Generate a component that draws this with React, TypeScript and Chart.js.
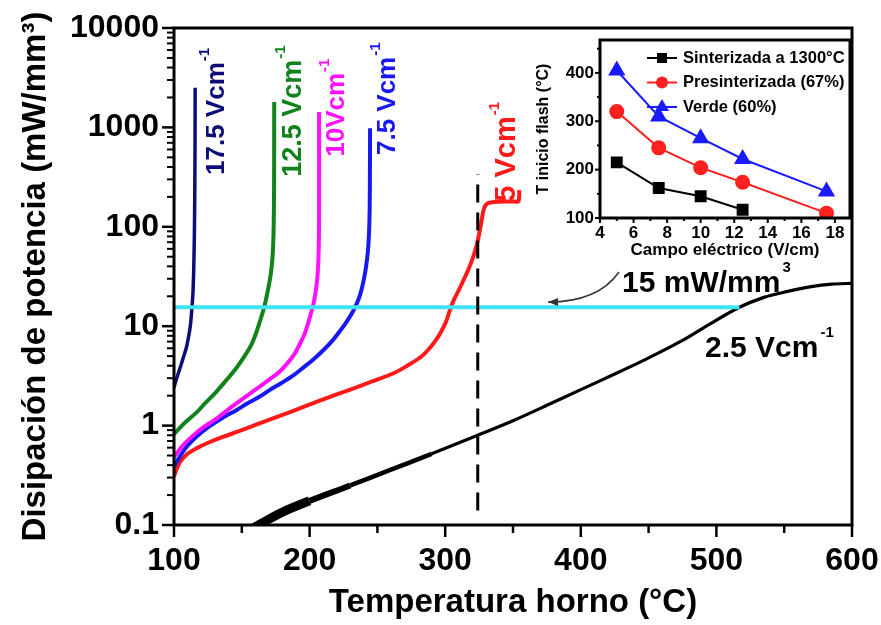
import React, { useEffect, useRef } from "react";
import { Chart, registerables } from "chart.js";
Chart.register(...registerables);

const FONT = "'Liberation Sans', Arial, Helvetica, sans-serif";

// ---------------- main chart: axes ----------------
const xTickValues = [100, 200, 300, 400, 500, 600];
const xMinorValues = [150, 250, 350, 450, 550];
const yTickValues = [0.1, 1, 10, 100, 1000, 10000];
const yTickLabels = ["0.1", "1", "10", "100", "1000", "10000"];
const yMinorValues: number[] = [];
for (const dec of [0.1, 1, 10, 100, 1000]) for (let k = 2; k <= 9; k++) yMinorValues.push(k * dec);

// ---------------- main chart: series [T (°C), P (mW/mm3)] ----------------
const field17_5: [number, number][] = [
  [100, 2.4], [101, 2.7], [103, 3.3], [105, 4.0], [107, 4.9], [109, 6.0], [110.5, 7.5],
  [112, 10], [113, 14], [114, 22], [114.6, 40], [115, 80], [115.3, 200], [115.5, 600], [115.6, 2500],
];
const field12_5: [number, number][] = [
  [100, 0.82], [105, 0.97], [110, 1.13], [116.5, 1.35], [123, 1.68], [130, 2.1], [138, 2.8],
  [146, 3.8], [152, 5.0], [157, 6.5], [160.5, 8.5], [163, 10.8], [165, 13.2], [166.5, 15.5],
  [168, 19], [169.5, 24], [171, 31], [172.2, 42], [173, 60], [173.5, 100], [173.8, 250], [173.9, 1800],
];
const field10: [number, number][] = [
  [100, 0.48], [106, 0.62], [113, 0.77], [121, 0.95], [130, 1.14], [138, 1.38], [146, 1.67],
  [154, 2.0], [163, 2.46], [171, 2.95], [178, 3.5], [184, 4.3], [189, 5.3], [193, 6.7],
  [196.5, 8.5], [199, 10.8], [201, 13.5], [202.3, 15.5], [203.8, 19.5], [205, 25], [205.9, 33],
  [206.5, 48], [206.9, 80], [207, 200], [207, 1430],
];
const field7_5: [number, number][] = [
  [100, 0.39], [108, 0.58], [116.5, 0.77], [126, 0.98], [136, 1.2], [146, 1.43], [154, 1.67],
  [163, 1.95], [171, 2.3], [179, 2.67], [188, 3.2], [196, 3.9], [204, 4.8], [211, 5.9],
  [217, 7.2], [222, 8.8], [226.5, 10.7], [230.5, 13], [233.5, 15.5], [236.3, 19], [238.5, 24],
  [240.3, 31], [241.8, 41], [243, 57], [243.8, 85], [244.3, 150], [244.5, 400], [244.6, 980],
];
const field5: [number, number][] = [
  [100, 0.31], [104, 0.42], [110, 0.52], [116.5, 0.59], [126, 0.68], [136, 0.77], [150, 0.9],
  [163, 1.05], [180, 1.28], [196, 1.55], [212, 1.88], [229, 2.28], [246, 2.78], [262, 3.36],
  [272, 4.0], [282, 4.9], [288, 5.9], [293, 7.2], [297, 8.8], [300.5, 11], [303.5, 14.5],
  [306.5, 18.5], [310, 23], [313.5, 29], [317, 37], [320, 47], [322.5, 60], [324.5, 78],
  [326, 100], [327.3, 125], [328.3, 148], [329.8, 165], [332, 174], [336, 178], [343, 180],
  [350, 180], [354, 181], [354.6, 234],
];
const field2_5: [number, number][] = [
  [150, 0.08], [165, 0.105], [180, 0.135], [200, 0.175], [230, 0.25], [260, 0.36], [290, 0.52],
  [324, 0.8], [350, 1.12], [375, 1.6], [400, 2.3], [425, 3.3], [450, 4.8], [475, 7.2],
  [495, 10.5], [517, 15.5], [535, 19.5], [550, 22], [570, 25], [585, 26.5], [600, 27],
];
const thresholdLine: [number, number][] = [[100, 15.5], [517, 15.5]];
const onsetLine: [number, number][] = [[324, 0.14], [324, 340]];

// ---------------- inset chart ----------------
const insetFields = [5, 7.5, 10, 12.5, 17.5];
const onsetSintered = [215, 162, 145, 117];
const onsetPresintered = [320, 245, 204, 174, 110];
const onsetGreen = [405, 310, 265, 222, 155];
const insetXTicks = [4, 6, 8, 10, 12, 14, 16, 18];
const insetXMinor = [5, 7, 9, 11, 13, 15, 17];
const insetYTicks = [100, 200, 300, 400];
const insetYMinor = [150, 250, 350, 450];
const insetLegend = ["Sinterizada a 1300°C", "Presinterizada (67%)", "Verde (60%)"];

// ---------------- colours ----------------
const NAVY = "#0d0d7a";
const GREEN = "#12821a";
const MAGENTA = "#ff10ff";
const BLUE = "#1818f0";
const RED = "#ff1a1a";
const CYAN = "#3fe3f2";

const toXY = (arr: [number, number][]) => arr.map(([x, y]) => ({ x, y }));

// annotation anchors in data coordinates
const rotatedLabels = [
  { text: "17.5 Vcm", x: 131.5, y: 332, color: NAVY, size: 26 },
  { text: "12.5 Vcm", x: 188, y: 319, color: GREEN, size: 27 },
  { text: "10Vcm", x: 220, y: 507, color: MAGENTA, size: 26 },
  { text: "7.5 Vcm", x: 258, y: 527, color: BLUE, size: 26 },
  { text: "5 Vcm", x: 345.4, y: 179, color: RED, size: 29 },
];

function line(ctx: CanvasRenderingContext2D, x1: number, y1: number, x2: number, y2: number) {
  ctx.beginPath();
  ctx.moveTo(x1, y1);
  ctx.lineTo(x2, y2);
  ctx.stroke();
}

const zeroPad = (s: any) => {
  s.paddingLeft = 0;
  s.paddingRight = 0;
  s.paddingTop = 0;
  s.paddingBottom = 0;
};

const mainDecor = {
  id: "mainDecor",
  afterDraw(chart: any) {
    const { ctx, chartArea: a } = chart;
    const x = chart.scales.x;
    const y = chart.scales.y;
    ctx.save();
    ctx.strokeStyle = "#000";
    ctx.lineWidth = 2.5;
    xTickValues.forEach((v) => { const p = x.getPixelForValue(v); line(ctx, p, a.bottom, p, a.bottom + 12); });
    xMinorValues.forEach((v) => { const p = x.getPixelForValue(v); line(ctx, p, a.bottom, p, a.bottom + 8); });
    yTickValues.forEach((v) => { const p = y.getPixelForValue(v); line(ctx, a.left - 12, p, a.left, p); });
    ctx.lineWidth = 2;
    yMinorValues.forEach((v) => { const p = y.getPixelForValue(v); line(ctx, a.left - 7, p, a.left, p); });
    ctx.lineWidth = 3;
    ctx.strokeRect(a.left, a.top, a.right - a.left, a.bottom - a.top);

    // rotated field labels
    rotatedLabels.forEach((l) => {
      const px = x.getPixelForValue(l.x);
      const py = y.getPixelForValue(l.y);
      ctx.save();
      ctx.translate(px, py);
      ctx.rotate(-Math.PI / 2);
      ctx.fillStyle = l.color;
      ctx.textAlign = "left";
      ctx.textBaseline = "middle";
      ctx.font = `bold ${l.size}px ${FONT}`;
      ctx.fillText(l.text, 0, 0);
      const w = ctx.measureText(l.text).width;
      ctx.font = `bold 15px ${FONT}`;
      ctx.fillText("-1", w + 1, -12);
      ctx.restore();
    });

    // 15 mW/mm3 label with arrow
    ctx.fillStyle = "#000";
    ctx.textAlign = "left";
    ctx.textBaseline = "alphabetic";
    ctx.font = `bold 30px ${FONT}`;
    const lx = x.getPixelForValue(430.4);
    const ly = y.getPixelForValue(22.1);
    ctx.fillText("15 mW/mm", lx, ly);
    const lw = ctx.measureText("15 mW/mm").width;
    ctx.font = `bold 15px ${FONT}`;
    ctx.fillText("3", lx + lw + 2, ly - 20);

    ctx.font = `bold 30px ${FONT}`;
    const bx = x.getPixelForValue(491.6);
    const by = y.getPixelForValue(4.9);
    ctx.fillText("2.5 Vcm", bx, by);
    const bw = ctx.measureText("2.5 Vcm").width;
    ctx.font = `bold 15px ${FONT}`;
    ctx.fillText("-1", bx + bw + 2, by - 20);

    // arrow
    const sx = x.getPixelForValue(428.2), sy = y.getPixelForValue(35.1);
    const cx = x.getPixelForValue(412.7), cy = y.getPixelForValue(17.5);
    const ex = x.getPixelForValue(375.8), ey = y.getPixelForValue(17.5);
    ctx.strokeStyle = "#333";
    ctx.lineWidth = 1.5;
    ctx.beginPath();
    ctx.moveTo(sx, sy);
    ctx.quadraticCurveTo(cx, cy, ex, ey);
    ctx.stroke();
    ctx.fillStyle = "#333";
    ctx.beginPath();
    ctx.moveTo(ex, ey);
    ctx.lineTo(ex + 10, ey - 4);
    ctx.lineTo(ex + 10, ey + 4);
    ctx.closePath();
    ctx.fill();
    ctx.restore();
  },
};

const insetColors = ["#000000", "#ff2020", "#1a1aff"];
const insetStyles = ["rect", "circle", "triangle"];

function drawMarker(ctx: CanvasRenderingContext2D, i: number, cx: number, cy: number) {
  ctx.beginPath();
  if (i === 0) ctx.rect(cx - 5, cy - 5, 10, 10);
  else if (i === 1) ctx.arc(cx, cy, 6, 0, Math.PI * 2);
  else {
    ctx.moveTo(cx, cy - 8);
    ctx.lineTo(cx + 7, cy + 4);
    ctx.lineTo(cx - 7, cy + 4);
    ctx.closePath();
  }
  ctx.fill();
}

const insetDecor = {
  id: "insetDecor",
  afterDraw(chart: any) {
    const { ctx, chartArea: a } = chart;
    const x = chart.scales.x;
    const y = chart.scales.y;
    ctx.save();
    ctx.strokeStyle = "#000";
    ctx.lineWidth = 2;
    insetXTicks.forEach((v) => { const p = x.getPixelForValue(v); line(ctx, p, a.bottom, p, a.bottom + 5); });
    insetXMinor.forEach((v) => { const p = x.getPixelForValue(v); line(ctx, p, a.bottom, p, a.bottom + 3); });
    insetYTicks.forEach((v) => { const p = y.getPixelForValue(v); line(ctx, a.left - 5, p, a.left, p); });
    insetYMinor.forEach((v) => { const p = y.getPixelForValue(v); line(ctx, a.left - 3, p, a.left, p); });
    ctx.lineWidth = 3;
    ctx.strokeRect(a.left, a.top, a.right - a.left, a.bottom - a.top);

    // legend
    insetLegend.forEach((label, i) => {
      const rowY = a.top + 18 + i * 24.5;
      const x0 = a.left + 47;
      ctx.strokeStyle = insetColors[i];
      ctx.lineWidth = 2;
      line(ctx, x0, rowY, x0 + 30, rowY);
      ctx.fillStyle = insetColors[i];
      drawMarker(ctx, i, x0 + 15, rowY);
      ctx.fillStyle = "#000";
      ctx.font = `bold 16.5px ${FONT}`;
      ctx.textAlign = "left";
      ctx.textBaseline = "middle";
      ctx.fillText(label, x0 + 36, rowY);
    });
    ctx.restore();
  },
};

export default function App() {
  const mainRef = useRef<HTMLCanvasElement>(null);
  const insetRef = useRef<HTMLCanvasElement>(null);

  useEffect(() => {
    const curve = (data: [number, number][], color: string, width = 3.5, extra: any = {}) => ({
      data: toXY(data),
      borderColor: color,
      backgroundColor: color,
      borderWidth: width,
      pointRadius: 0,
      tension: 0.3,
      fill: false,
      ...extra,
    });
    const main = new Chart(mainRef.current!, {
      type: "line",
      data: {
        datasets: [
          curve(onsetLine, "#000", 3, { borderDash: [18, 10], tension: 0 }),
          curve(thresholdLine, CYAN, 4, { tension: 0 }),
          curve(field17_5, NAVY, 3.5),
          curve(field12_5, GREEN, 4),
          curve(field10, MAGENTA, 4),
          curve(field7_5, BLUE, 4),
          curve(field5, RED, 4),
          curve(field2_5, "#000", 3, {
            segment: {
              borderWidth: (c: any) =>
                c.p0.parsed.x < 200 ? 9 : c.p0.parsed.x < 230 ? 6 : c.p0.parsed.x < 290 ? 4.5 : 3.2,
            },
          }),
        ],
      },
      options: {
        animation: false,
        responsive: false,
        devicePixelRatio: 1,
        layout: { padding: { top: 28, right: 29, left: 0, bottom: 0 } },
        plugins: { legend: { display: false }, tooltip: { enabled: false } },
        scales: {
          x: {
            type: "linear",
            min: 100,
            max: 600,
            afterBuildTicks: (s: any) => { s.ticks = xTickValues.map((v) => ({ value: v })); },
            afterFit: (s: any) => { s.height = 100; zeroPad(s); },
            grid: { display: false, drawTicks: false },
            border: { display: false },
            ticks: {
              color: "#000",
              font: { family: FONT, size: 32, weight: "bold" },
              padding: 17,
              maxRotation: 0,
              autoSkip: false,
            },
            title: {
              display: true,
              text: "Temperatura horno (°C)",
              color: "#000",
              font: { family: FONT, size: 33, weight: "bold" },
              padding: { top: 0, bottom: 2 },
            },
          },
          y: {
            type: "logarithmic",
            min: 0.1,
            max: 10000,
            afterBuildTicks: (s: any) => { s.ticks = yTickValues.map((v) => ({ value: v })); },
            afterFit: (s: any) => { s.width = 174; zeroPad(s); },
            grid: { display: false, drawTicks: false },
            border: { display: false },
            ticks: {
              color: "#000",
              font: { family: FONT, size: 32, weight: "bold" },
              padding: 15,
              autoSkip: false,
              callback: (v: any) => yTickLabels[yTickValues.indexOf(Number(v))] ?? "",
            },
            title: {
              display: true,
              text: "Disipación de potencia (mW/mm³)",
              color: "#000",
              font: { family: FONT, size: 33, weight: "bold" },
              padding: { top: 16, bottom: 0 },
            },
          },
        },
      },
      plugins: [mainDecor],
    } as any);

    const insetSets = [onsetSintered, onsetPresintered, onsetGreen];
    const inset = new Chart(insetRef.current!, {
      type: "line",
      data: {
        datasets: insetSets.map((vals, i) => ({
          label: insetLegend[i],
          data: vals.map((v, j) => ({ x: insetFields[j], y: v })),
          borderColor: insetColors[i],
          backgroundColor: insetColors[i],
          borderWidth: 2,
          pointStyle: insetStyles[i],
          pointRadius: i === 0 ? 7 : i === 1 ? 6.5 : 8,
          tension: 0,
        })),
      },
      options: {
        animation: false,
        responsive: false,
        devicePixelRatio: 1,
        layout: { padding: { top: 3, right: 10, left: 0, bottom: 0 } },
        plugins: { legend: { display: false }, tooltip: { enabled: false } },
        scales: {
          x: {
            type: "linear",
            min: 4,
            max: 18.9,
            afterBuildTicks: (s: any) => { s.ticks = insetXTicks.map((v) => ({ value: v })); },
            afterFit: (s: any) => { s.height = 52; zeroPad(s); },
            grid: { display: false, drawTicks: false },
            border: { display: false },
            ticks: { color: "#000", font: { family: FONT, size: 17, weight: "bold" }, padding: 5, maxRotation: 0, autoSkip: false },
            title: {
              display: true,
              text: "Campo eléctrico (V/cm)",
              color: "#000",
              font: { family: FONT, size: 17, weight: "bold" },
              padding: { top: 0, bottom: 9 },
            },
          },
          y: {
            type: "linear",
            min: 100,
            max: 468,
            afterBuildTicks: (s: any) => { s.ticks = insetYTicks.map((v) => ({ value: v })); },
            afterFit: (s: any) => { s.width = 80; zeroPad(s); },
            grid: { display: false, drawTicks: false },
            border: { display: false },
            ticks: { color: "#000", font: { family: FONT, size: 17, weight: "bold" }, padding: 6, autoSkip: false },
            title: {
              display: true,
              text: "T inicio flash (°C)",
              color: "#000",
              font: { family: FONT, size: 16, weight: "bold" },
              padding: { top: 14, bottom: 0 },
            },
          },
        },
      },
      plugins: [insetDecor],
    } as any);

    return () => {
      main.destroy();
      inset.destroy();
    };
  }, []);

  return (
    <div style={{ position: "absolute", left: 0, top: 0, width: 881, height: 625, background: "#fff" }}>
      <canvas ref={mainRef} width={881} height={625} style={{ position: "absolute", left: 0, top: 0 }} />
      <canvas ref={insetRef} width={340} height={240} style={{ position: "absolute", left: 520, top: 30 }} />
    </div>
  );
}
